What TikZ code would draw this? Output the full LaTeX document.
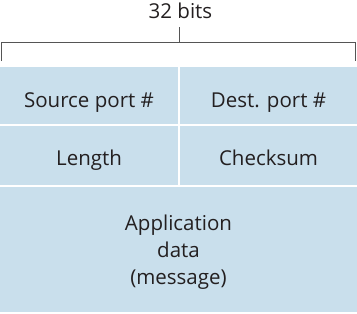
\documentclass[tikz,border=0pt]{standalone}
\usepackage{fontspec}
\setmainfont{Open Sans}
\usepackage{xcolor}
\usetikzlibrary{positioning}

\definecolor{fieldblue}{HTML}{C9DFEC}
\definecolor{inkgray}{HTML}{231F20}
\definecolor{rulegray}{HTML}{555555}

\begin{document}
\begin{tikzpicture}[
  x=1pt, y=1pt,
  field/.style={fill=fieldblue, inner sep=0pt, align=center, text=inkgray,
    font=\fontsize{20.5}{27}\selectfont, text depth=0pt},
  half/.style={field, minimum width=178pt},
  bracket/.style={draw=rulegray, line width=0.9pt}
]
\useasboundingbox (0,0) rectangle (357,-314);
% header
\node[text=inkgray, font=\fontsize{20.5}{24}\selectfont, inner sep=0pt, anchor=base]
  (width) at (180.5,-18.3) {32 bits};
\coordinate (bl) at (1,-61);
\coordinate (br) at (355.5,-61);
\coordinate (tick) at (179,-27);
\draw[bracket] (bl) |- (br |- 0,-42) -- (br);
\draw[bracket] (tick) -- (tick |- 0,-42);
% fields
\node[half, minimum height=57pt, text height=23.6pt] (src) at (89,-95.5) {Source port \#};
\node[half, minimum height=57pt, text height=23.6pt, minimum width=177pt] (dst) at (268.5,-95.5) {Dest. port \#};
\node[half, minimum height=59pt, text height=19pt] (len) at (89,-155.5) {Length};
\node[half, minimum height=59pt, text height=19pt, minimum width=177pt] (chk) at (268.5,-155.5) {Checksum};
\node[field, minimum width=357pt, minimum height=125pt] (app) at (178.5,-249.5)
  {Application\\data\\(message)};
\end{tikzpicture}
\end{document}
